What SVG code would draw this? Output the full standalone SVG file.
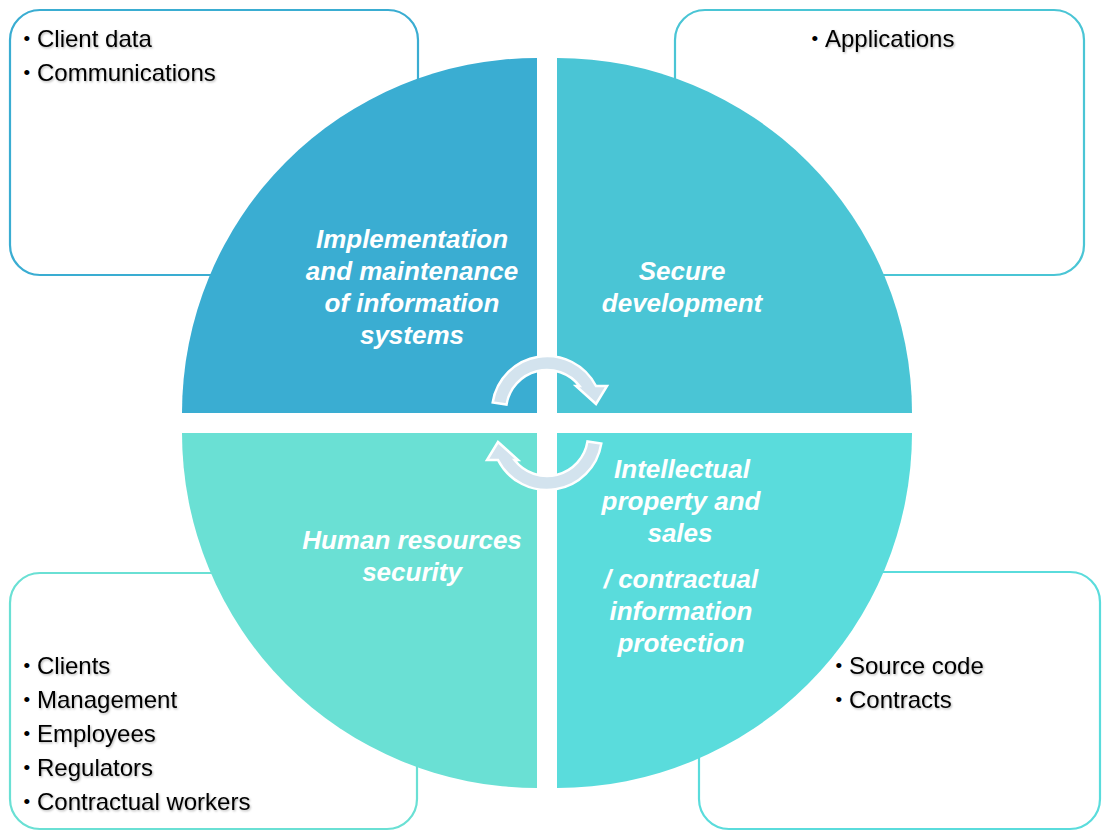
<svg xmlns="http://www.w3.org/2000/svg" width="1102" height="831" viewBox="0 0 1102 831">
<defs>
<style>
.box{fill:#ffffff;stroke-width:2.2}
.item{font-family:"Liberation Sans",Arial,sans-serif;font-size:24px;fill:#000000;filter:url(#sh)}
.bul{font-family:"Liberation Sans",Arial,sans-serif;font-size:19px;fill:#000000}
.lbl{font-family:"Liberation Sans",Arial,sans-serif;font-size:26px;font-weight:bold;font-style:italic;fill:#ffffff;text-anchor:middle}
.arrow{fill:#d3e3ee;stroke:#ffffff;stroke-width:2.5;stroke-linejoin:miter}
</style>
<filter id="sh" x="-10%" y="-30%" width="120%" height="160%">
<feDropShadow dx="1" dy="1.2" stdDeviation="0.8" flood-color="#000000" flood-opacity="0.3"/>
</filter>
</defs>
<rect width="1102" height="831" fill="#ffffff"/>

<g id="box-tl">
<rect class="box" x="10" y="10" width="408" height="265" rx="30" stroke="#3aadd2"/>
<text class="bul" x="23.5" y="45">•</text><text class="item" x="37" y="47">Client data</text>
<text class="bul" x="23.5" y="79">•</text><text class="item" x="37" y="81">Communications</text>
</g>
<g id="box-tr">
<rect class="box" x="675" y="10" width="409" height="265" rx="30" stroke="#4ac5d5"/>
<text class="bul" x="811.5" y="45">•</text><text class="item" x="825" y="47">Applications</text>
</g>
<g id="box-bl">
<rect class="box" x="10" y="573" width="407" height="256" rx="30" stroke="#6ae0d4"/>
<text class="bul" x="23.5" y="672">•</text><text class="item" x="37" y="674">Clients</text>
<text class="bul" x="23.5" y="706">•</text><text class="item" x="37" y="708">Management</text>
<text class="bul" x="23.5" y="740">•</text><text class="item" x="37" y="742">Employees</text>
<text class="bul" x="23.5" y="774">•</text><text class="item" x="37" y="776">Regulators</text>
<text class="bul" x="23.5" y="808">•</text><text class="item" x="37" y="810">Contractual workers</text>
</g>
<g id="box-br">
<rect class="box" x="699" y="572" width="401" height="257" rx="30" stroke="#5adcdc"/>
<text class="bul" x="835.5" y="672">•</text><text class="item" x="849" y="674">Source code</text>
<text class="bul" x="835.5" y="706">•</text><text class="item" x="849" y="708">Contracts</text>
</g>

<g id="q-tl">
<path d="M537,413 L182,413 A355,355 0 0 1 537,58 Z" fill="#3aadd2"/>
<text class="lbl" x="412" y="248">Implementation</text>
<text class="lbl" x="412" y="280">and maintenance</text>
<text class="lbl" x="412" y="312">of information</text>
<text class="lbl" x="412" y="344">systems</text>
</g>
<g id="q-tr">
<path d="M557,413 L557,58 A355,355 0 0 1 912,413 Z" fill="#4ac5d5"/>
<text class="lbl" x="682" y="280">Secure</text>
<text class="lbl" x="682" y="312">development</text>
</g>
<g id="q-bl">
<path d="M537,433 L537,788 A355,355 0 0 1 182,433 Z" fill="#6ae0d4"/>
<text class="lbl" x="412" y="549">Human resources</text>
<text class="lbl" x="412" y="581">security</text>
</g>
<g id="q-br">
<path d="M557,433 L912,433 A355,355 0 0 1 557,788 Z" fill="#5adcdc"/>
<text class="lbl" x="682" y="478">Intellectual</text>
<text class="lbl" x="681" y="510">property and</text>
<text class="lbl" x="680" y="542">sales</text>
<text class="lbl" x="681" y="588">/ contractual</text>
<text class="lbl" x="681" y="620">information</text>
<text class="lbl" x="681" y="652">protection</text>
</g>

<g id="connectors">
<path id="arrow-top" class="arrow" d="M492.7,402.4 A55,55 0 0 1 596,386 L607,386 L596,404 L576,386 L579.5,386 A41,41 0 0 0 506.5,404.6 Z"/>
<path id="arrow-bottom" class="arrow" transform="rotate(180 547 423)" d="M492.7,402.4 A55,55 0 0 1 596,386 L607,386 L596,404 L576,386 L579.5,386 A41,41 0 0 0 506.5,404.6 Z"/>
</g>
</svg>
